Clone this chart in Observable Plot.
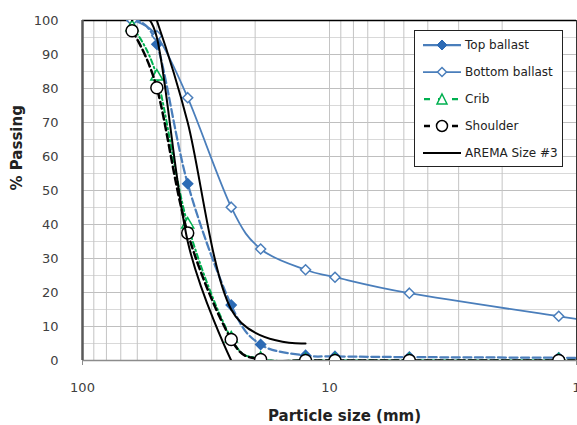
<!DOCTYPE html>
<html>
<head>
<meta charset="utf-8">
<script src="https://cdn.jsdelivr.net/npm/d3@7"></script>
<script src="https://cdn.jsdelivr.net/npm/@observablehq/plot@0.6"></script>
<style>
  html, body { margin: 0; padding: 0; background: #fff; }
  #wrap { position: relative; width: 577px; height: 425px; font-family: "DejaVu Sans", sans-serif; }
  #legend { position: absolute; left: 414px; top: 30px; width: 149px; height: 137px; border: 1px solid #222; background: #fff; box-sizing: border-box; }
  .row { height: 27px; display: flex; align-items: center; font-size: 12px; color: #222; white-space: nowrap; }
  .row svg { margin-left: 7px; margin-right: 3px; flex: none; }
</style>
</head>
<body>
<div id="wrap"></div>
<script>
// ---- data ----
const sieveSizes    = [63, 50, 37.5, 25, 19, 12.5, 9.5, 4.75, 1.18, 0.6];   // mm
const topBallast    = [100, 93, 52, 16.3, 4.7, 1.5, 1.2, 1.0, 0.8, 0.6];
const bottomBallast = [100, 95.5, 77.3, 45.1, 32.8, 26.7, 24.5, 19.8, 13.0, 10.0];
const crib          = [98, 83.5, 40, 6.5, 0.5, 0, 0, 0, 0, 0];
const shoulder      = [97, 80.2, 37.5, 6.2, 0.3, 0, 0, 0, 0, 0];
const aremaUpperSizes = [50, 37.5, 25, 12.5];
const aremaUpper      = [100, 70, 15, 5];
const aremaLowerSizes = [63, 50, 37.5, 25];
const aremaLower      = [100, 95, 35, 0];

const xTicks = [100, 10, 1];
const yTicks = [0, 10, 20, 30, 40, 50, 60, 70, 80, 90, 100];
const yMinorGrid = [5, 15, 25, 35, 45, 55, 65, 75, 85, 95];
const xGrid = [90, 80, 70, 60, 50, 40, 30, 20, 10, 9, 8, 7, 6, 5, 4, 3, 2];
const xDomain = [100, 1];
const yDomain = [0, 100];

const table = (sizes, vals) => sizes.map((s, i) => ({size: s, pct: vals[i]}));
const topT = table(sieveSizes, topBallast);
const botT = table(sieveSizes, bottomBallast);
const cribT = table(sieveSizes, crib);
const shT = table(sieveSizes, shoulder);
const upT = table(aremaUpperSizes, aremaUpper);
const loT = table(aremaLowerSizes, aremaLower);

const BLUE = "#4a7ebb", BLUE_DARK = "#2d6bb5", GREEN = "#00b050";
const curve = "cardinal";

const chart = Plot.plot({
  width: 577, height: 425,
  marginLeft: 82, marginRight: 1, marginTop: 20, marginBottom: 65,
  style: {fontFamily: "DejaVu Sans", fontSize: "13px", color: "#404040", background: "white"},
  x: {type: "log", domain: xDomain},
  y: {domain: yDomain},
  marks: [
    Plot.ruleY(yMinorGrid, {stroke: "#d9d9d9"}),
    Plot.ruleY(yTicks, {stroke: "#bfbfbf"}),
    Plot.ruleX(xGrid, {stroke: "#c4c4c4"}),
    Plot.ruleY([yDomain[1]], {stroke: "#000", strokeWidth: 1.5}),
    Plot.ruleX([xDomain[1]], {stroke: "#333"}),
    Plot.ruleY([yDomain[0]], {stroke: "#8c8c8c", strokeWidth: 1.5}),
    Plot.ruleX([xDomain[0]], {stroke: "#595959", strokeWidth: 2.5}),
    Plot.axisX(xTicks, {tickSize: 5, tickPadding: 17, tickFormat: d => String(d), stroke: "#8c8c8c", label: null, fill: "#404040"}),
    Plot.axisY(yTicks, {tickSize: 0, tickPadding: 24, label: null, fill: "#404040"}),
    Plot.text(["Particle size (mm)"], {frameAnchor: "bottom", dx: 15, dy: 60, fontSize: 15, fontWeight: "bold", fill: "#222"}),
    Plot.text(["% Passing"], {frameAnchor: "left", rotate: -90, dx: -65, fontSize: 15, fontWeight: "bold", fill: "#222"}),

    // Top ballast
    Plot.line(topT, {x: "size", y: "pct", curve, stroke: BLUE, strokeWidth: 2.25, strokeDasharray: "8,3.5", clip: true}),
    Plot.dot(topT, {x: "size", y: "pct", symbol: "diamond2", r: 4.5, fill: BLUE_DARK, stroke: BLUE_DARK, clip: true}),
    // Bottom ballast
    Plot.line(botT, {x: "size", y: "pct", curve, stroke: BLUE, strokeWidth: 1.75, clip: true}),
    Plot.dot(botT, {x: "size", y: "pct", symbol: "diamond2", r: 4.5, fill: "white", stroke: BLUE, strokeWidth: 1.5, clip: true}),
    // Crib
    Plot.line(cribT, {x: "size", y: "pct", curve, stroke: GREEN, strokeWidth: 2, strokeDasharray: "5,3,1.5,3", clip: true}),
    Plot.dot(cribT, {x: "size", y: "pct", symbol: "triangle", r: 4.5, fill: "white", stroke: GREEN, strokeWidth: 1.5, clip: true}),
    // Shoulder
    Plot.line(shT, {x: "size", y: "pct", curve, stroke: "#000", strokeWidth: 2.5, strokeDasharray: "7,4", clip: true}),
    Plot.dot(shT, {x: "size", y: "pct", symbol: "circle", r: 6, fill: "white", stroke: "#000", strokeWidth: 1.5, clip: true}),
    // AREMA Size #3 band limits
    Plot.line(upT, {x: "size", y: "pct", curve, stroke: "#000", strokeWidth: 2, clip: true}),
    Plot.line(loT, {x: "size", y: "pct", curve, stroke: "#000", strokeWidth: 2, clip: true})
  ]
});

const wrap = document.getElementById("wrap");
wrap.appendChild(chart);

// ---- legend ----
const legendItems = [
  {label: "Top ballast", stroke: BLUE, dash: null, width: 2.25, marker: "diamondFilled"},
  {label: "Bottom ballast", stroke: BLUE, dash: null, width: 1.75, marker: "diamondOpen"},
  {label: "Crib", stroke: GREEN, dash: "6,8", width: 2.25, marker: "triangle"},
  {label: "Shoulder", stroke: "#000", dash: "6,8", width: 2.5, marker: "circle"},
  {label: "AREMA Size #3", stroke: "#000", dash: null, width: 2, marker: null}
];
const leg = document.createElement("div");
leg.id = "legend";
for (const it of legendItems) {
  const row = document.createElement("div");
  row.className = "row";
  let m = "";
  if (it.marker === "diamondFilled") m = `<path d="M20,2 L25,7 L20,12 L15,7 Z" fill="${BLUE_DARK}" stroke="${BLUE_DARK}"/>`;
  if (it.marker === "diamondOpen") m = `<path d="M20,2.5 L24.5,7 L20,11.5 L15.5,7 Z" fill="white" stroke="${BLUE}" stroke-width="1.5"/>`;
  if (it.marker === "triangle") m = `<path d="M20,2 L25,12 L15,12 Z" fill="white" stroke="${GREEN}" stroke-width="1.5"/>`;
  if (it.marker === "circle") m = `<circle cx="20" cy="7" r="5.5" fill="white" stroke="#000" stroke-width="1.5"/>`;
  const dash = it.dash ? `stroke-dasharray="${it.dash}" stroke-dashoffset="-1"` : "";
  row.innerHTML = `<svg width="40" height="14"><line x1="1" y1="7" x2="39" y2="7" stroke="${it.stroke}" stroke-width="${it.width}" ${dash}/>${m}</svg><span>${it.label}</span>`;
  leg.appendChild(row);
}
wrap.appendChild(leg);
</script>
</body>
</html>
